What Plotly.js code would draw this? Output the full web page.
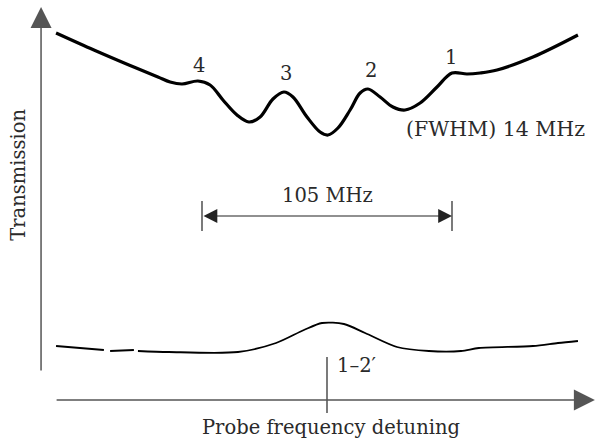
<!DOCTYPE html>
<html>
<head>
<meta charset="utf-8">
<script src="https://cdn.plot.ly/plotly-3.0.1.min.js"></script>
<style>html,body{margin:0;padding:0;background:#fff}#chart{width:595px;height:444px}</style>
</head>
<body>
<div id="chart"></div>
<script>
// Probe detuning (MHz, 0 = line 1–2') and transmission (arb. units, 0 = x axis)
const upperDetuning = [-113.8,-97.9,-83.2,-71.0,-65.9,-60.9,-54.2,-49.1,-43.7,-37.8,-32.8,-28.1,-22.7,-18.1,-14.3,-8.4,-2.9,0.4,4.6,9.7,13.9,17.2,22.3,27.7,32.8,39.1,46.2,52.5,58.8,64.3,71.4,86.5,105.4];
const upperTransmission = [3.67,3.50,3.35,3.23,3.18,3.16,3.19,3.15,3.00,2.85,2.78,2.83,3.01,3.08,3.03,2.83,2.68,2.65,2.72,2.90,3.07,3.11,3.03,2.93,2.90,2.97,3.13,3.27,3.26,3.27,3.30,3.43,3.65];

const lowerDetuning = [-113.8,-93.7,null,-91.1,-81.1,null,-79.4,-66.4,-37.4,-21.4,-9.7,-2.1,7.1,16.0,29.4,42.8,56.3,63.8,86.5,97.0,105.4];
const lowerTransmission = [0.54,0.50,null,0.49,0.50,null,0.49,0.48,0.48,0.57,0.70,0.77,0.76,0.67,0.53,0.49,0.49,0.52,0.54,0.57,0.59];

const peakNames = ["4","3","2","1"];
const peakDetuning = [-53.8,-17.2,18.5,52.1];
const peakLabelLevel = [3.35,3.27,3.30,3.43];

const splitting = 105;      // MHz between peaks 4 and 1
const fwhmText = "(FWHM) 14 MHz";
const lineLabel = "1–2′";
const xTitle = "Probe frequency detuning";
const yTitle = "Transmission";

const FONT = "DejaVu Serif, serif";
const FS = 19.5;
const TXT = "#2a2a2a";
const AX = "#555";

const traces = [
  {x: upperDetuning, y: upperTransmission, mode: "lines", type: "scatter",
   line: {color: "#000", width: 3.2, shape: "spline", smoothing: 1}, hoverinfo: "skip"},
  {x: lowerDetuning, y: lowerTransmission, mode: "lines", type: "scatter",
   line: {color: "#000", width: 1.8, shape: "spline", smoothing: 0.8}, hoverinfo: "skip", connectgaps: false}
];

const half = splitting / 2;
const font = {family: FONT, size: FS, color: TXT};
const annotations = [];
// axes arrows
annotations.push({x: -120.1, y: 3.93, ax: -120.1, ay: 0.28, axref: "x", ayref: "y", xref: "x", yref: "y",
  text: "", showarrow: true, arrowhead: 2, arrowsize: 2.8, arrowwidth: 1.5, arrowcolor: AX});
annotations.push({x: 112.5, y: 0, ax: -114.2, ay: 0, axref: "x", ayref: "y", xref: "x", yref: "y",
  text: "", showarrow: true, arrowhead: 2, arrowsize: 2.8, arrowwidth: 1.5, arrowcolor: AX});
// 105 MHz double arrow
annotations.push({x: half, y: 1.84, ax: -half, ay: 1.84, axref: "x", ayref: "y", xref: "x", yref: "y",
  text: "", showarrow: true, arrowhead: 2, arrowside: "end+start", arrowsize: 2.3, arrowwidth: 1.2, arrowcolor: "#222"});
annotations.push({x: 0.4, y: 2.05, xref: "x", yref: "y", text: splitting + " MHz", showarrow: false, font: font});
// peak labels
peakNames.forEach((n, i) => annotations.push({x: peakDetuning[i], y: peakLabelLevel[i], xref: "x", yref: "y",
  text: n, showarrow: false, font: font}));
annotations.push({x: 32.3, y: 2.71, xref: "x", yref: "y", text: fwhmText, showarrow: false, xanchor: "left",
  font: {family: FONT, size: 20.5, color: TXT}});
annotations.push({x: 3.2, y: 0.35, xref: "x", yref: "y", text: lineLabel, showarrow: false, xanchor: "left", font: font});
annotations.push({x: 1.5, y: -0.27, xref: "x", yref: "y", text: xTitle, showarrow: false, font: font});
annotations.push({x: -129.9, y: 2.25, xref: "x", yref: "y", text: yTitle, showarrow: false, textangle: -90, font: font});

const shapes = [
  {type: "line", xref: "x", yref: "y", x0: -half, x1: -half, y0: 1.69, y1: 1.99, line: {color: "#222", width: 1.2}},
  {type: "line", xref: "x", yref: "y", x0: half, x1: half, y0: 1.69, y1: 1.99, line: {color: "#222", width: 1.2}},
  {type: "line", xref: "x", yref: "y", x0: 0, x1: 0, y0: -0.13, y1: 0.43, line: {color: "#222", width: 1.2}}
];

const layout = {
  width: 595, height: 444,
  margin: {l: 0, r: 0, t: 0, b: 0},
  paper_bgcolor: "#fff", plot_bgcolor: "#fff",
  showlegend: false,
  xaxis: {range: [-137.34, 112.56], visible: false, fixedrange: true},
  yaxis: {range: [-0.44, 4.0], visible: false, fixedrange: true},
  annotations: annotations,
  shapes: shapes
};

Plotly.newPlot("chart", traces, layout, {staticPlot: true, displayModeBar: false});
</script>
</body>
</html>
